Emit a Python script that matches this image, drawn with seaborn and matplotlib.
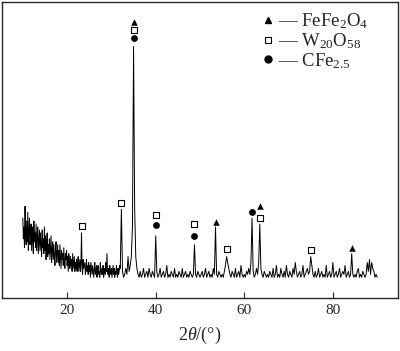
import numpy as np
import pandas as pd
import matplotlib
matplotlib.use('Agg')
import matplotlib.pyplot as plt
from matplotlib.lines import Line2D
import seaborn as sns

# ===============================
# DATOS
# ===============================

# tramo 1: 10 - 31.875, paso 0.125 (zona ruidosa)
inicio_1 = 10.0
paso_1 = 0.125
intensidad_1 = [
    27, 20, 24, 17, 31, 22, 18, 26,   # 10
    19, 29, 16, 23, 27, 18, 21, 25,   # 11
    16, 24, 20, 15, 26, 19, 22, 17,   # 12
    25, 16, 21, 24, 15, 19, 23, 16,   # 13
    22, 18, 14, 23, 17, 20, 15, 24,   # 14
    16, 21, 13, 19, 22, 14, 18, 15,   # 15
    20, 13, 17, 21, 12, 16, 19, 13,   # 16
    18, 14, 11, 17, 19, 12, 15, 18,   # 17
    12, 16, 11, 18, 14, 10, 16, 13,   # 18
    15, 11, 17, 12, 10, 15, 13, 16,   # 19
    11, 14, 9, 15, 12, 10, 14, 11,    # 20
    13, 9, 15, 10, 12, 14, 9, 12,     # 21
    10, 13, 9, 12, 14, 9, 11, 13,     # 22
    9, 12, 22, 10, 8, 13, 10, 11,     # 23
    12, 8, 10, 13, 9, 11, 8, 12,      # 24
    9, 11, 7, 12, 10, 8, 11, 9,       # 25
    7, 10, 12, 8, 9, 11, 7, 10,       # 26
    11, 8, 9, 7, 12, 9, 8, 10,        # 27
    8, 11, 7, 9, 10, 8, 12, 9,        # 28
    15, 9, 8, 10, 7, 11, 9, 8,        # 29
    10, 7, 9, 11, 8, 10, 7, 9,        # 30
    8, 11, 9, 7, 10, 8, 9, 11,        # 31
]

# tramo 2: 32 - 90, paso 0.25
inicio_2 = 32.0
paso_2 = 0.25
intensidad_2 = [
    10, 30, 9, 7, 8, 10, 8, 14, 9, 11, 14, 24,                                        # 32-34.75
    85, 30, 14, 10, 8, 7, 9, 7, 8, 10, 7, 8, 9, 7, 10, 8, 7, 9, 8, 7,                 # 35-39.75
    21, 9, 7, 8, 10, 7, 8, 9, 7, 8, 11, 7, 8, 7, 9, 8, 7, 10, 7, 8,                   # 40-44.75
    7, 9, 8, 7, 10, 7, 8, 9, 7, 8, 7, 9, 8, 7, 8, 18, 8, 7, 9, 8,                     # 45-49.75
    7, 8, 9, 7, 8, 10, 7, 8, 9, 7, 8, 7, 10, 8, 24, 8, 7, 9, 8, 7,                    # 50-54.75
    8, 7, 9, 11, 14, 12, 10, 8, 7, 9, 8, 7, 10, 7, 8, 9, 7, 11, 8, 7,                 # 55-59.75
    8, 7, 9, 8, 10, 8, 12, 27, 9, 7, 8, 10, 8, 12, 25, 10, 8, 7, 9, 8,                # 60-64.75
    7, 8, 7, 9, 8, 7, 10, 7, 8, 11, 7, 8, 7, 10, 8, 7, 9, 7, 11, 8,                   # 65-69.75
    7, 9, 8, 7, 10, 8, 12, 9, 7, 8, 9, 7, 8, 11, 7, 8, 9, 10, 8, 9,                   # 70-74.75
    14, 11, 8, 7, 9, 7, 8, 10, 7, 8, 9, 7, 8, 7, 11, 7, 8, 9, 7, 8,                   # 75-79.75
    12, 7, 8, 9, 7, 8, 10, 7, 8, 9, 8, 11, 7, 8, 9, 7, 8, 15, 8, 7,                   # 80-84.75
    8, 7, 9, 10, 7, 8, 7, 9, 8, 7, 8, 12, 9, 13, 8, 12, 10, 9, 7, 8,                  # 85-89.75
    7,
]

# marcas de fases (posicion 2theta, altura de la marca)
fefe2o4_x = [35.0, 53.5, 63.5, 84.25]
fefe2o4_y = [93.2, 25.7, 31.0, 16.9]

w20o58_x = [23.25, 32.25, 35.0, 40.0, 48.75, 56.0, 63.5, 75.0]
w20o58_y = [24.3, 32.1, 90.5, 28.0, 25.0, 16.6, 27.0, 16.2]

cfe_x = [35.0, 40.0, 48.75, 61.75]
cfe_y = [87.8, 24.7, 21.0, 29.0]

etiquetas = [r'— FeFe$_2$O$_4$', r'— W$_{20}$O$_{58}$', r'— CFe$_{2.5}$']

x1 = inicio_1 + paso_1 * np.arange(len(intensidad_1))
x2 = inicio_2 + paso_2 * np.arange(len(intensidad_2))
df = pd.DataFrame({'x': np.concatenate([x1, x2]),
                   'y': intensidad_1 + intensidad_2})

# ===============================
# ESTILO
# ===============================

sns.set_style('ticks')
plt.rcParams['font.family'] = ['Liberation Serif', 'DejaVu Serif']
plt.rcParams['mathtext.fontset'] = 'custom'
plt.rcParams['mathtext.rm'] = 'Liberation Serif'
plt.rcParams['mathtext.it'] = 'Liberation Serif:italic'

fig = plt.figure(figsize=(4.0, 3.51), dpi=100)
ax = fig.add_axes([0.005, 0.151, 0.99, 0.843])

sns.lineplot(data=df, x='x', y='y', color='black', linewidth=0.7, ax=ax, sort=False)

ax.scatter(fefe2o4_x, fefe2o4_y, marker='^', s=22, color='black', linewidths=0, zorder=3)
ax.scatter(w20o58_x, w20o58_y, marker='s', s=20, facecolor='white', edgecolor='black', linewidths=0.8, zorder=3)
ax.scatter(cfe_x, cfe_y, marker='o', s=24, color='black', linewidths=0, zorder=3)

handles = [
    Line2D([], [], linestyle='none', marker='^', markersize=5, color='black'),
    Line2D([], [], linestyle='none', marker='s', markersize=4.5, markerfacecolor='white', markeredgecolor='black', markeredgewidth=0.8),
    Line2D([], [], linestyle='none', marker='o', markersize=5, color='black'),
]
ax.legend(handles, etiquetas, loc='upper left', frameon=False, fontsize=13.5,
          handlelength=0.5, handletextpad=0.3, labelspacing=0.0,
          borderpad=0, borderaxespad=0, bbox_to_anchor=(0.66, 0.968))

ax.set_xlim(5.3, 94.7)
ax.set_ylim(0, 100)
ax.set_yticks([])
ax.set_xticks([20, 40, 60, 80])
ax.tick_params(axis='x', direction='in', length=4, width=0.8, labelsize=11, pad=4)
for s in ax.spines.values():
    s.set_linewidth(1.0)
    s.set_visible(True)

ax.set_xlabel(r'2$\theta$/(°)', fontsize=13, labelpad=6)
ax.set_ylabel('')

fig.savefig('out.png', dpi=100)
